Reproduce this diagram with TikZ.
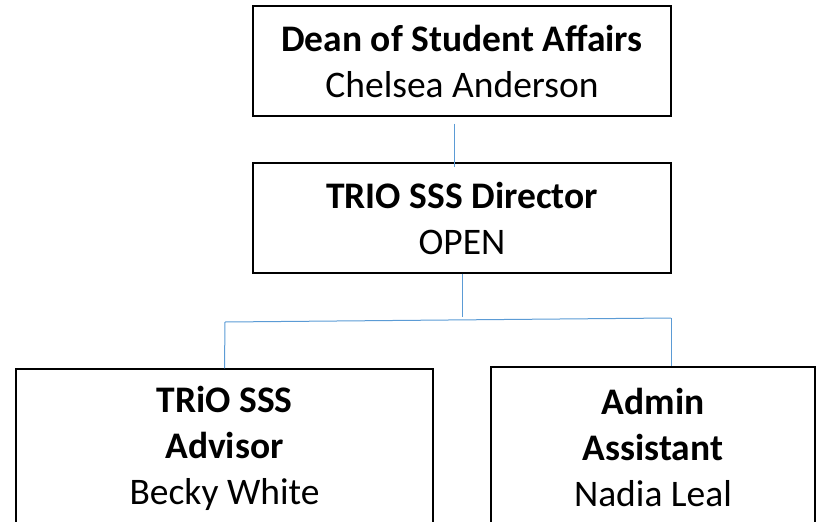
\documentclass[tikz,border=0pt]{standalone}
\usepackage{fontspec}
\setmainfont{Carlito}
\usetikzlibrary{positioning}

\begin{document}
\begin{tikzpicture}[x=1pt, y=-1pt,
        orgbox/.style={draw, line width=1.3pt, align=center, inner sep=0pt,
            font=\fontsize{37.5}{46}\selectfont},
        link/.style={draw=linkblue, line width=1pt}]
        \definecolor{linkblue}{HTML}{5B9BD5}
        \clip (0, 0) rectangle (822, 522);
        
        % Boxes
        \node[orgbox, minimum width=418pt, minimum height=110pt] (dean) at (462, 61)
            {\textbf{Dean of Student Affairs}\\Chelsea Anderson};
        \node[orgbox, minimum width=418pt, minimum height=110pt] (director) at (462, 218)
            {\textbf{TRIO SSS Director}\\OPEN};
        \node[orgbox, minimum width=417pt, minimum height=159pt] (advisor) at (224.5, 448.5)
            {\textbf{TRiO SSS}\\\textbf{Advisor}\\Becky White};
        \node[orgbox, minimum width=324pt, minimum height=161pt] (assistant) at (653, 447.5)
            {\textbf{Admin}\\\textbf{Assistant}\\Nadia Leal};
        
        % Branch points
        \coordinate (branch) at (462, 317);
        \coordinate (lbend) at (225, 322);
        \coordinate (rbend) at (671, 318);
        
        % Links
        \draw[link] ([xshift=-8pt, yshift=-7pt]dean.south) -- ([xshift=-8pt, yshift=-5pt]director.north);
        \draw[link] (director.south) -- (branch);
        \draw[link] (lbend) -- (rbend);
        \draw[link] (lbend) -- (advisor.north);
        \draw[link] (rbend) -- (rbend |- assistant.north);
    \end{tikzpicture}
\end{document}
